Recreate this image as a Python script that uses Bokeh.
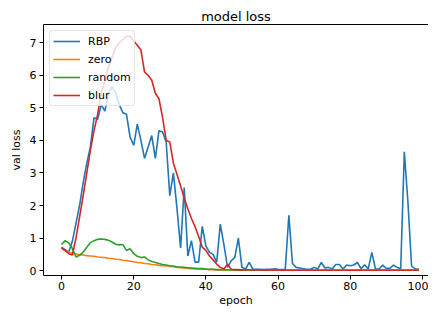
from bokeh.plotting import figure
from bokeh.models import Legend, LegendItem, FixedTicker, Range1d, LinearAxis
from bokeh.embed import file_html
from bokeh.resources import INLINE

epochs = list(range(100))

rbp = [0.72, 0.64, 0.57, 0.9, 1.45, 2.0, 2.7, 3.3, 3.8, 4.7,
       4.65, 5.1, 4.9, 5.45, 5.65, 5.45, 5.1, 4.85, 4.8, 4.1,
       3.85, 4.5, 4.0, 3.45, 3.8, 4.15, 3.45, 4.3, 4.26, 3.95,
       2.3, 3.0, 1.9, 0.7, 2.55, 0.45, 0.92, 0.26, 0.26, 1.36,
       0.76, 0.56, 0.5, 0.26, 1.43, 0.8, 0.1, 0.3, 0.4, 1.0,
       0.1, 0.05, 0.25, 0.05, 0.04, 0.04, 0.03, 0.04, 0.04, 0.06,
       0.04, 0.03, 0.04, 1.7, 0.22, 0.1, 0.08, 0.06, 0.04, 0.04,
       0.1, 0.05, 0.25, 0.08, 0.1, 0.05, 0.19, 0.19, 0.05, 0.17,
       0.15, 0.17, 0.25, 0.06, 0.18, 0.05, 0.56, 0.05, 0.05, 0.17,
       0.07, 0.07, 0.17, 0.1, 0.06, 3.65, 2.1, 0.15, 0.05, 0.05]

zero = [0.68, 0.62, 0.57, 0.53, 0.51, 0.49, 0.48, 0.46, 0.45, 0.44,
        0.42, 0.41, 0.40, 0.38, 0.37, 0.35, 0.34, 0.32, 0.31, 0.29,
        0.27, 0.25, 0.24, 0.22, 0.21, 0.19, 0.18, 0.16, 0.15, 0.14,
        0.13, 0.12, 0.10, 0.09, 0.08, 0.07, 0.06, 0.05, 0.05, 0.04,
        0.04, 0.03, 0.03, 0.02, 0.02, 0.02, 0.02, 0.02, 0.01, 0.01,
        0.01, 0.01, 0.01, 0.01, 0.01, 0.01, 0.01, 0.01, 0.01, 0.01,
        0.01, 0.01, 0.01, 0.01, 0.01, 0.01, 0.01, 0.01, 0.01, 0.01,
        0.01, 0.01, 0.01, 0.01, 0.01, 0.01, 0.01, 0.01, 0.01, 0.01,
        0.01, 0.01, 0.01, 0.01, 0.01, 0.01, 0.01, 0.01, 0.01, 0.01,
        0.01, 0.01, 0.01, 0.01, 0.01, 0.01, 0.01, 0.01, 0.01, 0.01]

random_ = [0.8, 0.92, 0.85, 0.68, 0.42, 0.47, 0.57, 0.72, 0.86, 0.92,
           0.96, 0.97, 0.96, 0.93, 0.88, 0.81, 0.79, 0.8, 0.62, 0.67,
           0.52, 0.44, 0.4, 0.42, 0.33, 0.28, 0.25, 0.22, 0.19, 0.17,
           0.15, 0.14, 0.12, 0.11, 0.1, 0.09, 0.08, 0.07, 0.06, 0.06,
           0.05, 0.04, 0.04, 0.03, 0.03, 0.03, 0.02, 0.02, 0.02, 0.02,
           0.02, 0.02, 0.01, 0.01, 0.01, 0.01, 0.01, 0.01, 0.01, 0.01,
           0.01, 0.01, 0.01, 0.01, 0.01, 0.01, 0.01, 0.01, 0.01, 0.01,
           0.01, 0.01, 0.01, 0.01, 0.01, 0.01, 0.01, 0.01, 0.01, 0.01,
           0.01, 0.01, 0.01, 0.01, 0.01, 0.01, 0.01, 0.01, 0.01, 0.01,
           0.01, 0.01, 0.01, 0.01, 0.01, 0.01, 0.01, 0.01, 0.01, 0.01]

blur = [0.7, 0.62, 0.52, 0.48, 1.0, 1.65, 2.3, 3.0, 3.7, 4.3,
        4.8, 5.45, 5.85, 6.25, 6.55, 6.85, 7.0, 7.1, 7.2, 7.2,
        7.05, 6.92, 6.78, 6.1, 6.0, 5.85, 5.45, 5.28, 4.7, 4.0,
        3.95, 3.3, 2.95, 2.6, 2.22, 1.9, 1.6, 1.35, 1.05, 0.72,
        0.62, 0.45, 0.33, 0.2, 0.1, 0.05, 0.2, 0.04, 0.03, 0.03,
        0.02, 0.02, 0.02, 0.02, 0.02, 0.02, 0.02, 0.01, 0.01, 0.01,
        0.01, 0.01, 0.01, 0.01, 0.01, 0.01, 0.01, 0.01, 0.01, 0.01,
        0.01, 0.01, 0.01, 0.01, 0.01, 0.01, 0.01, 0.01, 0.01, 0.01,
        0.01, 0.01, 0.01, 0.01, 0.01, 0.01, 0.01, 0.01, 0.01, 0.01,
        0.01, 0.01, 0.01, 0.01, 0.01, 0.01, 0.01, 0.01, 0.01, 0.01]

series_names = ["RBP", "zero", "random", "blur"]
series_values = [rbp, zero, random_, blur]
series_colors = ["#1f77b4", "#ff7f0e", "#2ca02c", "#d62728"]

x_ticks = [0, 20, 40, 60, 80, 100]
y_ticks = [0, 1, 2, 3, 4, 5, 6, 7]

FONT = "DejaVu Sans"

p = figure(width=428, height=309, output_backend="svg", toolbar_location=None,
           x_range=Range1d(-5.0, 101.7), y_range=Range1d(-0.15, 7.56),
           min_border_left=43, min_border_right=0, min_border_top=24,
           min_border_bottom=32)
p.outline_line_color = None
p.xgrid.visible = False
p.ygrid.visible = False

p.title.text = "model loss"
p.title.align = "center"
p.title.offset = 15
p.title.standoff = 1
p.title.text_font = FONT
p.title.text_font_size = "13px"
p.title.text_font_style = "normal"
p.title.text_color = "black"

for ax in (p.xaxis[0], p.yaxis[0]):
    ax.major_tick_out = 4
    ax.major_tick_in = 0
    ax.minor_tick_out = 0
    ax.minor_tick_in = 0
    ax.major_label_text_font = FONT
    ax.major_label_text_font_size = "11px"
    ax.major_label_text_color = "black"
    ax.axis_label_text_font = FONT
    ax.axis_label_text_font_size = "11px"
    ax.axis_label_text_font_style = "normal"
    ax.axis_label_text_color = "black"
    ax.axis_line_color = "black"
    ax.major_tick_line_color = "black"

p.xaxis.ticker = FixedTicker(ticks=x_ticks)
p.yaxis.ticker = FixedTicker(ticks=y_ticks)
p.xaxis.axis_label = "epoch"
p.yaxis.axis_label = "val loss"
p.xaxis.major_label_standoff = 2
p.xaxis.axis_label_standoff = 1
p.yaxis.major_label_standoff = 3
p.yaxis.axis_label_standoff = 4

# top spine only (the reference's right spine lies outside the picture)
top_spine = LinearAxis(ticker=FixedTicker(ticks=[]), major_tick_out=0, major_tick_in=0,
                       minor_tick_out=0, minor_tick_in=0, major_label_standoff=0,
                       axis_label_standoff=0, axis_line_color="black")
p.add_layout(top_spine, "above")

items = []
for name, vals, col in zip(series_names, series_values, series_colors):
    r = p.line(epochs, vals, line_color=col, line_width=1.6)
    items.append(LegendItem(label=name, renderers=[r]))

legend = Legend(items=items, location="top_left")
legend.margin = 6
legend.padding = 3
legend.spacing = 4
legend.glyph_width = 27
legend.glyph_height = 14
legend.label_height = 14
legend.label_standoff = 8
legend.label_text_font = FONT
legend.label_text_font_size = "11px"
legend.label_text_color = "black"
legend.border_line_color = "#cccccc"
legend.border_line_width = 1
legend.background_fill_alpha = 0.8
try:
    legend.border_radius = 3
except Exception:
    pass
p.add_layout(legend)

open("out.html", "w").write(file_html(p, INLINE))
